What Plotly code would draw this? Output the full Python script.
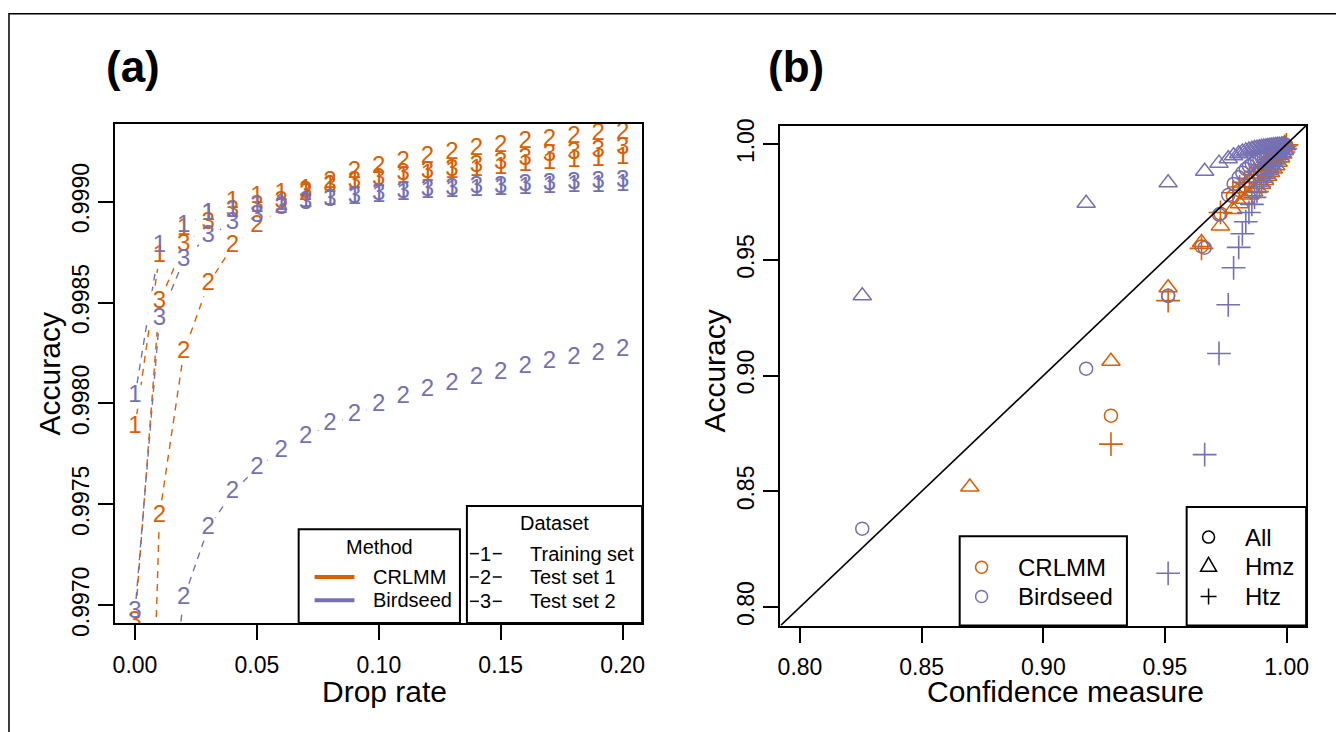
import plotly.graph_objects as go

W, H = 1336, 732
ORANGE = "#D95F02"
PURPLE = "#7570B3"
FONT = "Liberation Sans, Arial, Helvetica, sans-serif"

# ---------------- panel (a): accuracy against drop rate ----------------
drop_rate = [0.00, 0.01, 0.02, 0.03, 0.04, 0.05, 0.06, 0.07, 0.08, 0.09, 0.10,
             0.11, 0.12, 0.13, 0.14, 0.15, 0.16, 0.17, 0.18, 0.19, 0.20]

crlmm_training = [0.997882, 0.998730, 0.998865, 0.998937, 0.999000, 0.999024, 0.999039,
                  0.999058, 0.999077, 0.999096, 0.999106, 0.999120, 0.999130, 0.999145,
                  0.999159, 0.999169, 0.999183, 0.999193, 0.999202, 0.999207, 0.999217]
crlmm_test1 = [0.993400, 0.997443, 0.998253, 0.998590, 0.998778, 0.998880, 0.998971,
               0.999039, 0.999096, 0.999145, 0.999173, 0.999198, 0.999222, 0.999241,
               0.999260, 0.999275, 0.999294, 0.999304, 0.999318, 0.999333, 0.999342]
crlmm_test2 = [0.996918, 0.998504, 0.998783, 0.998894, 0.998952, 0.998976, 0.999000,
               0.999048, 0.999077, 0.999096, 0.999111, 0.999135, 0.999145, 0.999159,
               0.999178, 0.999193, 0.999212, 0.999231, 0.999241, 0.999251, 0.999265]
birdseed_training = [0.998036, 0.998778, 0.998880, 0.998937, 0.998952, 0.998976, 0.998986,
                     0.999005, 0.999014, 0.999019, 0.999029, 0.999039, 0.999048, 0.999053,
                     0.999058, 0.999063, 0.999067, 0.999072, 0.999077, 0.999077, 0.999082]
birdseed_test1 = [0.995000, 0.996051, 0.997034, 0.997381, 0.997559, 0.997680, 0.997766,
                  0.997834, 0.997896, 0.997945, 0.997993, 0.998031, 0.998065, 0.998094,
                  0.998128, 0.998152, 0.998181, 0.998205, 0.998224, 0.998243, 0.998263]
birdseed_test2 = [0.996966, 0.998417, 0.998711, 0.998831, 0.998894, 0.998928, 0.998966,
                  0.998995, 0.999010, 0.999024, 0.999039, 0.999048, 0.999058, 0.999063,
                  0.999072, 0.999072, 0.999082, 0.999087, 0.999092, 0.999096, 0.999101]

drop_ticks = [0.00, 0.05, 0.10, 0.15, 0.20]
acc_ticks_a = [0.9970, 0.9975, 0.9980, 0.9985, 0.9990]
range_a_x = [-0.008, 0.208]
range_a_y = [0.996912, 0.999386]

# ---------------- panel (b): accuracy against confidence ----------------
birdseed_conf = [0.8256, 0.9176, 0.9513, 0.9663, 0.9722, 0.9760, 0.9782, 0.9803, 0.9818,
                 0.9832, 0.9845, 0.9857, 0.9868, 0.9878, 0.9888, 0.9897, 0.9906, 0.9915,
                 0.9923, 0.9931, 0.9939, 0.9947, 0.9955, 0.9963, 0.9971, 0.9979, 0.9987,
                 0.9995]
birdseed_all = [0.8339, 0.9030, 0.9345, 0.9553, 0.9696, 0.9780, 0.9828, 0.9857, 0.9877,
                0.9893, 0.9905, 0.9915, 0.9923, 0.9930, 0.9936, 0.9942, 0.9947, 0.9952,
                0.9957, 0.9961, 0.9965, 0.9969, 0.9973, 0.9977, 0.9981, 0.9985, 0.9990,
                0.9995]
birdseed_hmz = [0.9345, 0.9745, 0.9833, 0.9883, 0.9918, 0.9937, 0.9950, 0.9959, 0.9966,
                0.9971, 0.9975, 0.9978, 0.9981, 0.9983, 0.9985, 0.9987, 0.9988, 0.9989,
                0.9990, 0.9991, 0.9992, 0.9993, 0.9994, 0.9995, 0.9996, 0.9997, 0.9998,
                0.9999]
birdseed_htz = [None, None, 0.8146, 0.8659, 0.9096, 0.9306, 0.9466, 0.9554, 0.9613,
                0.9665, 0.9705, 0.9740, 0.9770, 0.9795, 0.9817, 0.9836, 0.9853, 0.9868,
                0.9881, 0.9893, 0.9904, 0.9915, 0.9925, 0.9935, 0.9945, 0.9955, 0.9966,
                0.9980]

crlmm_conf = [0.8698, 0.9278, 0.9513, 0.9650, 0.9728, 0.9779, 0.9807, 0.9828, 0.9847,
              0.9864, 0.9881, 0.9896, 0.9909, 0.9922, 0.9934, 0.9945, 0.9955, 0.9965,
              0.9975, 0.9984, 0.9992, 0.9999]
crlmm_all = [None, 0.8827, 0.9345, 0.9558, 0.9700, 0.9775, 0.9800, 0.9820, 0.9838,
             0.9855, 0.9870, 0.9885, 0.9899, 0.9912, 0.9925, 0.9937, 0.9948, 0.9958,
             0.9968, 0.9978, 0.9987, 0.9996]
crlmm_hmz = [0.8519, 0.9062, 0.9380, 0.9575, 0.9647, 0.9718, 0.9743, 0.9762, 0.9780,
             0.9795, 0.9809, 0.9826, 0.9843, 0.9861, 0.9878, 0.9893, 0.9907, 0.9922,
             0.9940, 0.9958, 0.9975, 0.9993]
crlmm_htz = [None, 0.8704, 0.9324, 0.9550, 0.9705, 0.9790, 0.9815, 0.9835, 0.9853,
             0.9869, 0.9883, 0.9897, 0.9910, 0.9922, 0.9934, 0.9945, 0.9955, 0.9964,
             0.9973, 0.9982, 0.9990, 0.9997]

conf_ticks = [0.80, 0.85, 0.90, 0.95, 1.00]
range_b = [0.792, 1.008]


def fx(px):
    return px / W


def fy(py):
    return 1 - py / H


fig = go.Figure()

# panel (a): dashed connecting lines, white gaps under each digit, then the digits
curves = [
    (crlmm_training, ORANGE, "1"), (crlmm_test1, ORANGE, "2"), (crlmm_test2, ORANGE, "3"),
    (birdseed_training, PURPLE, "1"), (birdseed_test1, PURPLE, "2"), (birdseed_test2, PURPLE, "3"),
]
for acc, col, lab in curves:
    fig.add_trace(go.Scatter(x=drop_rate, y=acc, mode="lines", xaxis="x", yaxis="y",
                             line=dict(color=col, width=1.4, dash="7px,6px"),
                             hoverinfo="skip", showlegend=False))
for acc, col, lab in curves:
    fig.add_trace(go.Scatter(x=drop_rate, y=acc, mode="markers", xaxis="x", yaxis="y",
                             marker=dict(color="white", size=26, line=dict(width=0)),
                             hoverinfo="skip", showlegend=False))
for acc, col, lab in curves:
    # digits whose value falls below the axis are clipped away, so leave them blank
    digits = [lab if v >= range_a_y[0] else "" for v in acc]
    fig.add_trace(go.Scatter(x=drop_rate, y=acc, mode="text", xaxis="x", yaxis="y",
                             text=digits, textposition="middle center",
                             textfont=dict(family=FONT, size=24, color=col),
                             hoverinfo="skip", showlegend=False))

# panel (b): calibration points, CRLMM first, Birdseed on top
groups = [
    (crlmm_conf, crlmm_all, crlmm_hmz, crlmm_htz, ORANGE),
    (birdseed_conf, birdseed_all, birdseed_hmz, birdseed_htz, PURPLE),
]
for conf, a_all, a_hmz, a_htz, col in groups:
    fig.add_trace(go.Scatter(x=conf, y=a_all, mode="markers", xaxis="x2", yaxis="y2",
                             marker=dict(symbol="circle-open", size=13, color=col,
                                         line=dict(width=1.5, color=col)),
                             hoverinfo="skip", showlegend=False))
    fig.add_trace(go.Scatter(x=conf, y=a_hmz, mode="markers", xaxis="x2", yaxis="y2",
                             marker=dict(symbol="triangle-up-open", size=16, color=col,
                                         line=dict(width=1.5, color=col)),
                             hoverinfo="skip", showlegend=False))
    fig.add_trace(go.Scatter(x=conf, y=a_htz, mode="markers", xaxis="x2", yaxis="y2",
                             marker=dict(symbol="cross-thin-open", size=17, color=col,
                                         line=dict(width=1.6, color=col)),
                             hoverinfo="skip", showlegend=False))

# identity line across the whole panel
fig.add_trace(go.Scatter(x=range_b, y=range_b, mode="lines", xaxis="x2", yaxis="y2",
                         line=dict(color="black", width=1.6), hoverinfo="skip",
                         showlegend=False))

axis_style = dict(showline=True, linecolor="black", linewidth=2, mirror=True,
                  ticks="outside", ticklen=15, tickwidth=2, tickcolor="black",
                  showgrid=False, zeroline=False,
                  tickfont=dict(family=FONT, size=23, color="black"))

shapes = []
annotations = []


def rect(x0, y0, x1, y1, width=2):
    shapes.append(dict(type="rect", xref="paper", yref="paper",
                       x0=fx(x0), x1=fx(x1), y0=fy(y1), y1=fy(y0),
                       line=dict(color="black", width=width), fillcolor="white",
                       layer="above"))


def label(text, x, y, size, anchor="left", color="black", angle=0, bold=False):
    annotations.append(dict(text=f"<b>{text}</b>" if bold else text,
                            x=fx(x), y=fy(y), xref="paper", yref="paper",
                            xanchor=anchor, yanchor="middle", showarrow=False,
                            textangle=angle,
                            font=dict(family=FONT, size=size, color=color)))


# outer frame (top and left edges of the figure)
shapes.append(dict(type="rect", xref="paper", yref="paper", x0=fx(6), x1=1.02,
                   y0=-0.02, y1=fy(7), line=dict(color="black", width=1.5),
                   layer="below"))

# panel letters and axis titles
label("(a)", 131, 61, 44, anchor="center", bold=True)
label("(b)", 797, 61, 44, anchor="center", bold=True)
label("Drop rate", 383, 704, 30, anchor="center")
label("Confidence measure", 1067, 704, 30, anchor="center")
label("Accuracy", 47, 377, 30, anchor="center", angle=-90)
label("Accuracy", 715, 374, 30, anchor="center", angle=-90)

# panel (a) legend: method
rect(297, 537, 459, 633.3)
label("Method", 378, 555, 20, anchor="center")
for yy, col, name in [(586, ORANGE, "CRLMM"), (610, PURPLE, "Birdseed")]:
    shapes.append(dict(type="line", xref="paper", yref="paper", x0=fx(313), x1=fx(353),
                       y0=fy(yy), y1=fy(yy), line=dict(color=col, width=4), layer="above"))
    label(name, 370, yy, 20)

# panel (a) legend: dataset
rect(466, 513, 642, 633.3)
label("Dataset", 554, 531, 20, anchor="center")
for yy, digit, name in [(562, "1", "Training set"), (586, "2", "Test set 1"),
                        (611, "3", "Test set 2")]:
    for xa, xb in [(469, 478), (492, 501)]:
        shapes.append(dict(type="line", xref="paper", yref="paper", x0=fx(xa), x1=fx(xb),
                           y0=fy(yy), y1=fy(yy), line=dict(color="black", width=1.5),
                           layer="above"))
    label(digit, 485, yy, 20, anchor="center")
    label(name, 527, yy, 20)

# panel (b) legend: method
rect(961, 544, 1129, 636)
for yy, col, name in [(576, ORANGE, "CRLMM"), (606, PURPLE, "Birdseed")]:
    shapes.append(dict(type="circle", xref="paper", yref="paper",
                       xsizemode="pixel", ysizemode="pixel",
                       xanchor=fx(983), yanchor=fy(yy), x0=-6, x1=6, y0=-6, y1=6,
                       line=dict(color=col, width=1.5), layer="above"))
    label(name, 1018, yy, 24)

# panel (b) legend: genotype class
rect(1189, 514, 1309, 636)
shapes.append(dict(type="circle", xref="paper", yref="paper",
                   xsizemode="pixel", ysizemode="pixel",
                   xanchor=fx(1211), yanchor=fy(545), x0=-6, x1=6, y0=-6, y1=6,
                   line=dict(color="black", width=1.5), layer="above"))
shapes.append(dict(type="path", xref="paper", yref="paper",
                   xsizemode="pixel", ysizemode="pixel",
                   xanchor=fx(1211), yanchor=fy(574), path="M-8,-6 L8,-6 L0,8 Z",
                   line=dict(color="black", width=1.5), layer="above"))
shapes.append(dict(type="path", xref="paper", yref="paper",
                   xsizemode="pixel", ysizemode="pixel",
                   xanchor=fx(1211), yanchor=fy(606), path="M-8,0 L8,0 M0,-8 L0,8",
                   line=dict(color="black", width=1.5), layer="above"))
label("All", 1246, 545, 24)
label("Hmz", 1246, 575, 24)
label("Htz", 1246, 606, 24)

fig.update_layout(
    width=W, height=H,
    margin=dict(l=0, r=0, t=0, b=0),
    paper_bgcolor="white", plot_bgcolor="white",
    showlegend=False,
    xaxis=dict(domain=[fx(113), fx(642)], anchor="y", range=range_a_x,
               tickvals=drop_ticks, tickformat=".2f", ticklabelstandoff=5, **axis_style),
    yaxis=dict(domain=[fy(633.3), fy(120)], anchor="x", range=range_a_y,
               tickvals=acc_ticks_a, tickformat=".4f", tickangle=-90, **axis_style),
    xaxis2=dict(domain=[fx(781), fx(1309)], anchor="y2", range=range_b,
                tickvals=conf_ticks, tickformat=".2f", ticklabelstandoff=5, **axis_style),
    yaxis2=dict(domain=[fy(636), fy(122)], anchor="x2", range=range_b,
                tickvals=conf_ticks, tickformat=".2f", tickangle=-90, **axis_style),
    shapes=shapes,
    annotations=annotations,
)

fig.write_html("out.html")
